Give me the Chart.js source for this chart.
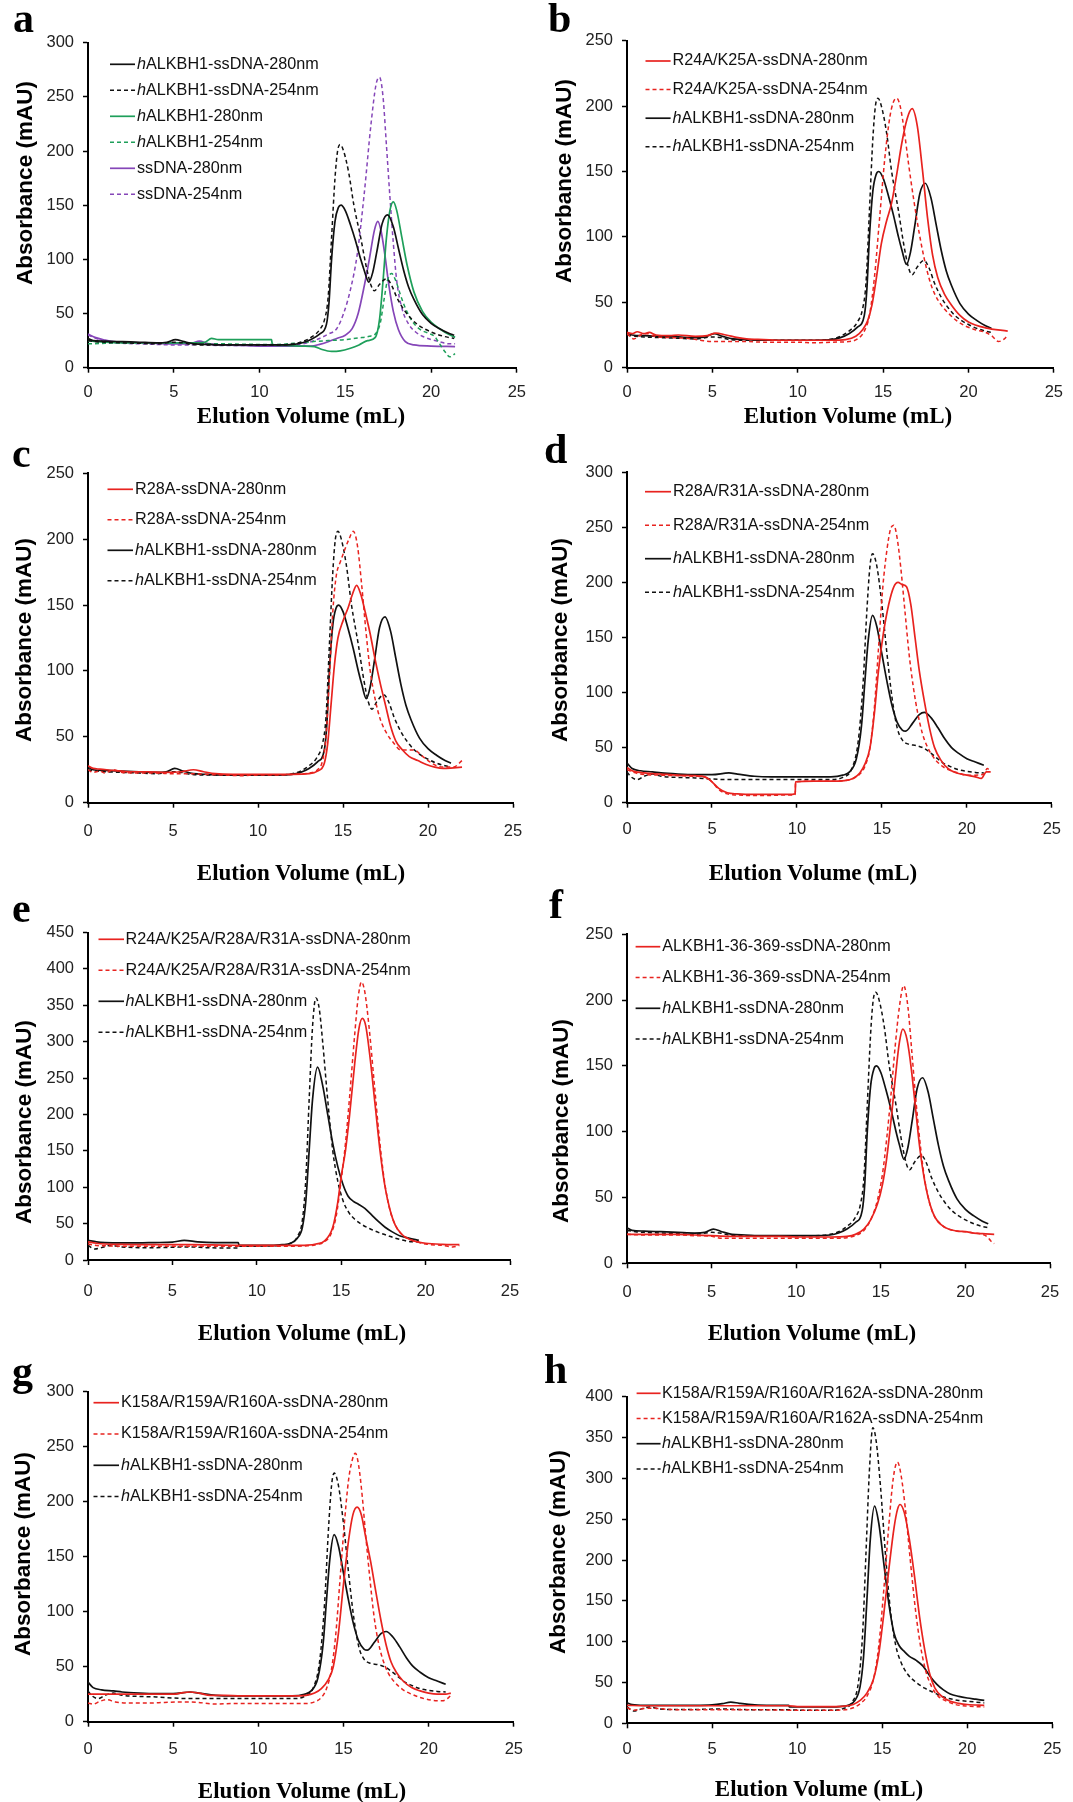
<!DOCTYPE html>
<html><head><meta charset="utf-8">
<script src="https://cdn.jsdelivr.net/npm/chart.js@4.4.1/dist/chart.umd.min.js"></script>
<style>
html,body{margin:0;padding:0;background:#fff;}
body{width:1073px;height:1802px;position:relative;overflow:hidden;}
canvas{position:absolute;}
.lt{position:absolute;font-family:"Liberation Serif","Times New Roman",serif;font-weight:bold;font-size:42px;line-height:1;color:#000;}
.yt{position:absolute;font-family:"Liberation Sans",Arial,sans-serif;font-weight:bold;font-size:22.5px;white-space:nowrap;transform:translate(-50%,-50%) rotate(-90deg);color:#000;line-height:1;}
.xt{position:absolute;font-family:"Liberation Serif","Times New Roman",serif;font-weight:bold;font-size:23px;white-space:nowrap;transform:translate(-50%,-50%);color:#000;line-height:1;}
</style></head><body>
<script>
// ---------------- DATA (elution volume mL, absorbance mAU) ----------------
const X_TICK_STEP = 5, X_MAX = 25, Y_TICK_STEP = 50;
const Y_MAX = {a:300,b:250,c:250,d:300,e:450,f:250,g:300,h:400};

// hALKBH1-ssDNA reference runs (panels a, b, c, f)
const H1_280 = [[0,27],[0.3,25],[1,24.5],[2,24],[3,23.5],[4,23],[4.6,23.5],[5.1,26],[5.6,24],[6.2,22],[7,21.5],[8,21],[9,21],[10,21],[11,21],[12,21.5],[12.5,23],[13,26],[13.5,31],[13.9,40],[14.05,60],[14.2,100],[14.4,135],[14.6,148],[14.75,150],[15,145],[15.3,132],[15.6,117],[15.9,100],[16.1,90],[16.37,79],[16.6,88],[16.85,108],[17.15,133],[17.47,141],[17.8,130],[18.1,110],[18.4,90],[18.7,74],[19,63],[19.5,49],[20,41],[20.5,36],[21,32],[21.35,30]];
const H1_254 = [[0,25],[0.5,24],[1,23.5],[2,23],[3,22.5],[4,22],[5,23.5],[5.5,23],[6,21.5],[7,21],[8,21],[9,21],[10,21],[11,21],[12,22],[12.5,24],[13,28],[13.5,35],[13.8,45],[14,65],[14.2,120],[14.4,175],[14.55,200],[14.7,206],[14.9,200],[15.2,180],[15.5,150],[15.9,120],[16.2,95],[16.5,76],[16.7,71],[17,77],[17.4,82],[17.7,76],[18,65],[18.4,54],[18.8,46],[19.2,40],[19.6,36],[20,33],[20.5,30],[21,28],[21.35,27]];
// hALKBH1-ssDNA reference runs (panels d, g)
const H2_280 = [[0,36],[0.3,31],[0.8,29],[1.5,28],[2,27],[3,26],[4,25.5],[5,25.5],[6,27],[6.5,26],[7.5,24],[8.5,23.5],[10,23.5],[11,23.5],[12,23.5],[12.7,25],[13.1,28],[13.5,40],[13.8,70],[14,110],[14.2,148],[14.45,170],[14.7,160],[15,135],[15.3,110],[15.6,88],[15.9,73],[16.2,66],[16.4,65],[16.8,72],[17.2,80],[17.5,82],[17.9,77],[18.3,68],[18.7,58],[19.1,50],[19.5,45],[20,40],[20.5,37],[21,34]];
const H2_254 = [[0,28],[0.2,24],[0.6,21],[1,24],[1.5,26],[2,24],[3,23],[4,22.5],[5,21.5],[6,21],[8,21],[10,21],[12,21],[12.7,23],[13.2,30],[13.6,55],[13.9,110],[14.1,170],[14.3,215],[14.45,226],[14.7,215],[15,180],[15.3,135],[15.6,95],[15.9,68],[16.2,57],[16.6,53],[17,52],[17.4,50],[17.8,46],[18.2,41],[18.6,36],[19,33],[19.5,30],[20,28.5],[20.5,27.5],[21,27]];
// hALKBH1-ssDNA reference runs (panel e)
const H3_280 = [[0,27],[0.5,25],[1,24],[2,23.5],[3,23.5],[4,24],[5,24.5],[5.7,27],[6.5,25],[7.5,24],[8.5,24],[8.9,24],[8.95,20],[10,20],[11,20],[11.5,21],[12,23],[12.4,30],[12.7,45],[12.9,80],[13.1,150],[13.3,220],[13.6,265],[13.9,240],[14.2,200],[14.5,160],[14.8,128],[15.1,104],[15.4,88],[15.7,81],[16,77],[16.4,71],[16.8,62],[17.2,53],[17.6,45],[18,39],[18.5,33],[19,30],[19.6,27]];
const H3_254 = [[0,20],[0.4,15],[0.8,17],[1.3,20],[2,18],[3,17],[4,17],[5,17.5],[6,18],[7,17],[8,16.5],[8.9,16.5],[8.95,19],[10,19],[11,19.5],[11.5,20.5],[12,23],[12.4,32],[12.7,55],[12.9,110],[13.1,220],[13.3,320],[13.5,360],[13.7,345],[13.9,300],[14.2,220],[14.5,150],[14.8,108],[15.1,82],[15.4,67],[15.8,56],[16.2,49],[16.7,43],[17.2,38],[17.7,34],[18.2,30],[18.7,27],[19.2,25],[19.6,25]];
// hALKBH1-ssDNA reference runs (panel h)
const H4_280 = [[0,25],[0.3,23],[1,22],[2,22],[3,22],[4,22],[5,22.5],[5.6,24],[6.1,26],[6.6,24.5],[7.5,22.5],[8.5,22],[9.5,22],[9.55,20],[10.5,20],[11.5,20],[12.5,20.5],[13,22],[13.4,28],[13.7,45],[13.9,80],[14.1,150],[14.3,225],[14.55,266],[14.8,245],[15.1,195],[15.4,145],[15.7,110],[16,95],[16.3,88],[16.6,82],[17,77],[17.4,70],[17.8,58],[18.2,48],[18.6,41],[19,36],[19.5,33],[20,31],[20.5,29.5],[21,28]];
const H4_254 = [[0,20],[0.4,15],[0.9,18],[1.3,20],[1.8,18],[2.5,17],[4,17],[5.5,17.5],[6.5,17],[8,16.5],[9.5,16.5],[10.5,16],[12,16],[12.7,18],[13.2,25],[13.6,50],[13.85,110],[14.05,210],[14.25,310],[14.45,362],[14.65,345],[14.9,290],[15.2,205],[15.5,135],[15.8,95],[16.1,75],[16.5,60],[17,50],[17.5,43],[18,38],[18.5,33],[19,30],[19.5,28],[20,27],[21,25]];

// panel a: protein alone and ssDNA alone
const PROT_280 = [[0,25],[0.5,24],[1,23.5],[2,23],[3,23],[4,23],[5,23],[6,23],[6.8,23.5],[7.2,27],[7.6,26],[8.5,26],[9.5,26],[10.7,26],[10.75,21],[11.5,20.5],[12.5,20],[13.2,19.5],[13.6,17],[14.2,15],[14.7,15.5],[15.3,18],[15.8,21],[16.3,25],[16.75,28],[17,45],[17.2,80],[17.4,120],[17.6,145],[17.8,153],[18,145],[18.3,120],[18.6,95],[19,70],[19.5,52],[20,42],[20.5,36],[21,31],[21.4,28]];
const PROT_254 = [[0,22],[1,22.5],[2,23],[4,23],[6,22.5],[8,22],[10,21.5],[11,21.5],[12,22.5],[13,24],[14,25],[15,26],[15.8,27.5],[16.4,29],[16.8,32],[17.05,42],[17.25,62],[17.45,80],[17.7,87],[17.95,80],[18.2,68],[18.5,55],[18.9,43],[19.3,36],[19.8,32],[20.2,29],[20.5,22],[20.8,15],[21.1,10],[21.4,13]];
const DNA_280 = [[0,31],[0.4,28],[1,25.5],[1.5,24],[2,23.5],[3,23],[4,22.5],[5,22],[6,22.5],[6.5,24.5],[7,22],[8,21],[9,20.5],[10,20],[11,20],[12,20],[13,20],[13.5,21.5],[14,24],[14.5,27],[15,30],[15.4,36],[15.75,50],[16.1,75],[16.4,100],[16.7,127],[16.9,135],[17.1,125],[17.3,105],[17.55,75],[17.8,52],[18.1,35],[18.5,24],[19,21],[20,20],[21.4,19.5]];
const DNA_254 = [[0,30],[0.5,27],[1,24],[2,22.5],[3,22],[4,21.5],[5,21],[6,21],[6.5,22],[7,21],[8,20.5],[10,20.5],[12,21],[12.5,22],[13,24],[13.5,27],[14,31],[14.5,36],[14.9,50],[15.3,72],[15.7,105],[16.1,160],[16.5,225],[16.8,262],[17,268],[17.2,250],[17.4,205],[17.6,158],[17.8,115],[18,80],[18.3,55],[18.7,40],[19.1,33],[19.5,29],[20,26],[20.5,24],[21,22],[21.4,22]];

// mutants
const R24K25_280 = [[0,27],[0.3,26],[0.6,27.5],[1,26],[1.3,27],[1.7,25],[2.5,24.5],[3,25],[4,24],[4.7,24.5],[5.2,26.5],[5.8,25],[6.5,23],[7,22],[8,21.5],[9,21],[10,21],[11,21],[12,21],[12.8,21.5],[13.4,24],[13.8,29],[14.1,36],[14.35,48],[14.6,68],[14.9,95],[15.2,112],[15.5,126],[15.8,148],[16.1,172],[16.4,190],[16.7,198],[17,185],[17.3,152],[17.6,115],[17.9,86],[18.2,69],[18.6,56],[19,48],[19.5,40],[20,35],[21,30.5],[22.3,28]];
const R24K25_254 = [[0,26],[0.4,22],[0.8,25],[1.2,26],[1.6,24],[2.5,23],[3.5,22.5],[4.3,21],[5,20],[6,20],[7,20],[8,19.5],[9,19.5],[10,19.5],[11,19],[12,19.5],[13,20],[13.5,22],[13.9,28],[14.2,40],[14.5,70],[14.8,115],[15.1,160],[15.4,192],[15.6,203],[15.8,206],[16,200],[16.25,180],[16.5,155],[16.8,128],[17.1,104],[17.4,84],[17.7,68],[18,57],[18.4,48],[18.8,42],[19.3,36],[19.8,32],[20.4,29],[21,27],[21.4,24],[21.75,20],[22.1,22],[22.3,25]];
const R28_280 = [[0,28],[0.3,26],[0.7,25.5],[1.5,24.5],[2.5,23.5],[3.5,23.5],[4.5,23],[5.5,23.5],[6.2,25],[6.8,23.5],[7.5,22],[8.5,21.5],[10,21.5],[11,21.5],[12,21.5],[13,22],[13.5,24],[13.9,30],[14.1,45],[14.3,75],[14.5,105],[14.7,125],[15,138],[15.3,148],[15.55,158],[15.8,165],[16.05,158],[16.3,145],[16.6,128],[16.9,108],[17.2,90],[17.5,74],[17.8,58],[18.1,47],[18.5,40],[18.9,35],[19.4,32],[19.9,29],[20.4,27],[20.9,26],[21.5,26.5],[22,27]];
const R28_254 = [[0,25],[0.3,23],[0.7,24],[1,22.5],[1.5,25],[2,23],[3,22.5],[4,22.5],[5,22],[6,22],[7,21.5],[8,21],[9,20.5],[10,21],[11,21],[12,21.5],[13,22.5],[13.5,25],[13.8,32],[14,50],[14.2,95],[14.4,145],[14.6,172],[14.85,183],[15.1,192],[15.35,200],[15.6,206],[15.85,195],[16.1,165],[16.35,130],[16.6,100],[16.9,78],[17.2,63],[17.6,52],[18,45],[18.4,40],[18.8,40],[19.2,40],[19.6,36],[20,32],[20.5,28],[21,27],[21.5,27],[22,32]];
const R28R31_280 = [[0,32],[0.3,29],[1,27],[2,26],[3,25],[4,24.5],[4.6,23.5],[5,19],[5.4,13],[5.9,9],[6.5,8],[7.5,7.5],[8.5,7.5],[9.5,7.5],[9.9,8],[9.92,19],[11,19.5],[12,19.5],[12.8,20],[13.3,22],[13.7,27],[14,35],[14.3,50],[14.55,80],[14.8,120],[15.1,155],[15.4,180],[15.7,196],[15.95,200],[16.2,198],[16.45,196],[16.7,180],[16.95,150],[17.2,120],[17.5,92],[17.8,68],[18.1,50],[18.5,38],[18.9,31],[19.4,27],[20,25],[20.5,23.5],[20.85,22],[21.15,28],[21.4,28]];
const R28R31_254 = [[0,30],[0.3,28],[1,25.5],[2,25],[3,24.5],[4,24],[4.6,23],[5,19],[5.4,12],[5.9,8],[6.5,7],[8,6.5],[9.5,7],[9.9,7.5],[9.92,19],[11,19.5],[12,19.5],[12.8,20],[13.3,22],[13.7,26],[14,33],[14.3,50],[14.55,85],[14.8,140],[15.05,195],[15.3,230],[15.5,248],[15.7,252],[15.9,240],[16.1,215],[16.35,175],[16.6,135],[16.85,105],[17.1,82],[17.4,62],[17.7,50],[18,42],[18.4,35],[18.9,30],[19.5,27],[20,25],[20.5,25],[21,26],[21.2,31],[21.4,28]];
const QUAD_280 = [[0,25],[0.5,23],[1,22],[2,21.5],[4,21],[6,21],[8,20.5],[10,20],[12,20],[13,20.5],[13.5,22],[14,26],[14.5,45],[14.8,80],[15,115],[15.25,150],[15.5,200],[15.8,270],[16.05,318],[16.25,332],[16.45,322],[16.7,280],[17,215],[17.3,150],[17.6,100],[17.9,68],[18.2,48],[18.6,35],[19,29],[19.5,25],[20,23],[21,21.5],[22,21]];
const QUAD_254 = [[0,22],[0.5,20],[1,19.5],[2,19],[4,19],[6,19],[8,19],[10,19],[12,19],[13,19.5],[13.5,21],[14,25],[14.4,36],[14.7,60],[15,110],[15.25,160],[15.5,225],[15.8,310],[16,360],[16.2,382],[16.4,368],[16.65,320],[16.95,245],[17.25,170],[17.55,110],[17.85,72],[18.2,48],[18.6,35],[19,29],[19.5,25],[20,22],[21,20],[21.6,18],[22,20]];
const TRUNC_280 = [[0,22],[1,22],[2,22],[3,22],[4,21.5],[5,21],[6,20.5],[7,20.5],[8,20.5],[9,20.5],[10,20],[11,20],[12,20],[13,20.5],[13.5,22],[14,26],[14.4,33],[14.8,45],[15.1,60],[15.35,80],[15.6,108],[15.85,140],[16.1,168],[16.3,178],[16.55,170],[16.8,148],[17.05,118],[17.3,88],[17.6,62],[17.9,45],[18.2,35],[18.6,29],[19,26],[19.5,24.5],[20,24],[20.5,23],[21,22.5],[21.7,22]];
const TRUNC_254 = [[0,22],[1,21.5],[2,21.5],[3,21.5],[4,21],[5,20.5],[5.6,19],[6.5,19],[8,19],[10,19],[12,19],[13,19.5],[13.5,21],[14,25],[14.4,33],[14.8,48],[15.1,68],[15.35,95],[15.6,128],[15.85,165],[16.1,195],[16.35,211],[16.6,195],[16.85,158],[17.1,120],[17.35,88],[17.6,63],[17.9,45],[18.2,35],[18.6,29],[19,26],[19.5,24.5],[20,24],[20.5,23],[21,22],[21.3,20],[21.5,17],[21.7,15]];
const KRR_280 = [[0,25],[0.5,25],[1,25],[2,25],[3,25],[4,25],[5,25],[5.6,26.5],[6,27],[6.5,26],[7.2,24],[8,24],[9,23.5],[10,23.5],[11,23.5],[12,23.5],[12.8,24],[13.3,26],[13.7,30],[14.1,38],[14.4,50],[14.7,80],[15,125],[15.3,165],[15.55,188],[15.8,195],[16.05,188],[16.3,168],[16.6,145],[16.9,118],[17.2,92],[17.5,70],[17.8,54],[18.1,45],[18.5,37],[19,31],[19.5,28],[20,26],[20.5,25],[21,25],[21.3,26]];
const KRR_254 = [[0,17],[0.3,16],[0.7,18.5],[1.1,20],[1.6,18],[2.5,17],[3.5,17],[4.5,17.5],[5.5,18],[6,18],[6.5,17.5],[7.5,16],[8.5,16.5],[10,16.5],[11,16.5],[12,16.5],[12.8,16.5],[13.3,18],[13.7,22],[14,30],[14.3,48],[14.55,80],[14.8,130],[15.05,180],[15.3,220],[15.55,240],[15.7,244],[15.9,232],[16.1,205],[16.3,170],[16.55,130],[16.8,95],[17.05,72],[17.3,57],[17.6,45],[18,36],[18.5,29],[19,25],[19.5,22],[20,20],[20.5,19],[20.8,19],[21.1,21],[21.3,24]];
const KRRR_280 = [[0,22],[1,21.5],[2,21.5],[4,21.5],[6,21.5],[8,21.5],[9.5,21.5],[10,20.5],[11,20.5],[12,20.5],[12.8,21],[13.3,23],[13.7,28],[14.1,37],[14.5,55],[14.8,85],[15.1,135],[15.4,190],[15.7,240],[15.9,262],[16.05,268],[16.3,258],[16.6,225],[16.9,180],[17.2,130],[17.5,90],[17.8,60],[18.1,43],[18.5,33],[19,27],[19.5,24.5],[20,23],[21,22]];
const KRRR_254 = [[0,19],[0.4,16],[1,18],[1.5,18.5],[2.5,17],[4,16.5],[6,16.5],[8,16.5],[10,16],[12,16],[12.8,16.5],[13.3,19],[13.7,24],[14.1,33],[14.5,55],[14.8,95],[15.1,165],[15.4,245],[15.65,300],[15.9,320],[16.1,305],[16.35,265],[16.65,200],[16.95,140],[17.25,95],[17.55,65],[17.9,45],[18.3,33],[18.8,27],[19.3,23],[20,21],[21,20]];

// legend labels
const LBL_H_280 = 'hALKBH1-ssDNA-280nm', LBL_H_254 = 'hALKBH1-ssDNA-254nm';
const SERIES = {
  a: [[LBL_H_280,H1_280,'k',0],[LBL_H_254,H1_254,'k',1],['hALKBH1-280nm',PROT_280,'g',0],['hALKBH1-254nm',PROT_254,'g',1],['ssDNA-280nm',DNA_280,'p',0],['ssDNA-254nm',DNA_254,'p',1]],
  b: [['R24A/K25A-ssDNA-280nm',R24K25_280,'r',0],['R24A/K25A-ssDNA-254nm',R24K25_254,'r',1],[LBL_H_280,H1_280,'k',0],[LBL_H_254,H1_254,'k',1]],
  c: [['R28A-ssDNA-280nm',R28_280,'r',0],['R28A-ssDNA-254nm',R28_254,'r',1],[LBL_H_280,H1_280,'k',0],[LBL_H_254,H1_254,'k',1]],
  d: [['R28A/R31A-ssDNA-280nm',R28R31_280,'r',0],['R28A/R31A-ssDNA-254nm',R28R31_254,'r',1],[LBL_H_280,H2_280,'k',0],[LBL_H_254,H2_254,'k',1]],
  e: [['R24A/K25A/R28A/R31A-ssDNA-280nm',QUAD_280,'r',0],['R24A/K25A/R28A/R31A-ssDNA-254nm',QUAD_254,'r',1],[LBL_H_280,H3_280,'k',0],[LBL_H_254,H3_254,'k',1]],
  f: [['ALKBH1-36-369-ssDNA-280nm',TRUNC_280,'r',0],['ALKBH1-36-369-ssDNA-254nm',TRUNC_254,'r',1],[LBL_H_280,H1_280,'k',0],[LBL_H_254,H1_254,'k',1]],
  g: [['K158A/R159A/R160A-ssDNA-280nm',KRR_280,'r',0],['K158A/R159A/R160A-ssDNA-254nm',KRR_254,'r',1],[LBL_H_280,H2_280,'k',0],[LBL_H_254,H2_254,'k',1]],
  h: [['K158A/R159A/R160A/R162A-ssDNA-280nm',KRRR_280,'r',0],['K158A/R159A/R160A/R162A-ssDNA-254nm',KRRR_254,'r',1],[LBL_H_280,H4_280,'k',0],[LBL_H_254,H4_254,'k',1]]
};
const X_TITLE = 'Elution Volume (mL)', Y_TITLE = 'Absorbance (mAU)';

// ---------------- LAYOUT / STYLE ----------------
const COLORS = {k:'#111111', r:'#e8231f', g:'#1e9f5a', p:'#8546b8'};
const SANS = '"Liberation Sans", Arial, sans-serif';
const LAYOUT = {
  a:{cv:[0,0,536,430],    plot:[88,42.7,518,367.7],    xpad:10,   leg:[110,135,137,64.3,26],      letter:[13,32],   yt:[25,182.5], xt:[301,415]},
  b:{cv:[536,0,537,430],  plot:[627,40.7,1057.5,367.7],xpad:10,   leg:[645.5,670.6,672.5,61,28.6],letter:[548,32],  yt:[564,181],  xt:[848,415]},
  c:{cv:[0,430,536,450],  plot:[88,473.3,518,802.7],   xpad:13.8, leg:[107.5,133,135,489.3,30.5], letter:[12,467],  yt:[24,640],   xt:[301,871.7]},
  d:{cv:[536,430,537,450],plot:[627,472.3,1057.5,802.7],xpad:12,  leg:[645,671,673,491.7,33.5],   letter:[544,463], yt:[560,640],  xt:[813,872]},
  e:{cv:[0,880,536,470],  plot:[88,932.5,518,1260],    xpad:16.8, leg:[98.5,124,125.5,939.3,31],  letter:[12,922],  yt:[24,1122],  xt:[302,1332]},
  f:{cv:[536,880,537,470],plot:[627,934.3,1057.5,1263.3],xpad:13.8,leg:[635.6,660.3,662.3,946.7,30.8],letter:[549,918],yt:[561,1121],xt:[812,1332]},
  g:{cv:[0,1350,536,452], plot:[88,1391.7,518,1721.7], xpad:13,   leg:[93.5,119,121,1402.7,31.3], letter:[12,1385], yt:[23,1554],  xt:[302,1790]},
  h:{cv:[536,1350,537,452],plot:[627,1396.7,1057.5,1723.3],xpad:11.5,leg:[636.6,660.6,662,1393.3,25.2],letter:[544,1383],yt:[558,1552],xt:[819,1788]}
};

const insideLegend = {
  id:'insideLegend',
  afterDatasetsDraw(chart, args, o){
    const ctx = chart.ctx;
    chart.data.datasets.forEach((ds,i)=>{
      const y = o.y0 + i*o.dy;
      ctx.save();
      ctx.strokeStyle = ds.borderColor; ctx.lineWidth = ds.borderWidth;
      ctx.setLineDash(ds.borderDash || []);
      ctx.beginPath(); ctx.moveTo(o.x1,y); ctx.lineTo(o.x2,y); ctx.stroke();
      ctx.setLineDash([]);
      ctx.fillStyle = '#111'; ctx.textBaseline = 'middle'; ctx.textAlign = 'left';
      let x = o.tx, text = ds.label;
      if (text.startsWith('hALKBH1')) {
        ctx.font = 'italic ' + o.fs + 'px ' + SANS;
        ctx.fillText('h', x, y); x += ctx.measureText('h').width; text = text.slice(1);
      }
      ctx.font = o.fs + 'px ' + SANS;
      ctx.fillText(text, x, y);
      ctx.restore();
    });
  }
};

function axisOpts(extra){
  return Object.assign({
    grid:{display:true, drawOnChartArea:false, drawTicks:true, tickLength:5, color:'#000', tickColor:'#000', tickWidth:1.5},
    border:{display:true, color:'#000', width:2}
  }, extra);
}

Object.keys(LAYOUT).forEach(id=>{
  const L = LAYOUT[id];
  const [cx,cy,cw,ch] = L.cv;
  const [pl,pt,pr,pb] = L.plot;
  const cv = document.createElement('canvas');
  cv.width = cw; cv.height = ch;
  cv.style.left = cx+'px'; cv.style.top = cy+'px';
  cv.style.width = cw+'px'; cv.style.height = ch+'px';
  document.body.appendChild(cv);

  const datasets = SERIES[id].map(([label,arr,col,dash])=>({
    label, data: arr.map(([x,y])=>({x,y})),
    borderColor: COLORS[col], backgroundColor: COLORS[col],
    borderWidth: dash ? 1.5 : 1.7, borderDash: dash ? [4,3] : [],
    pointRadius:0, fill:false, cubicInterpolationMode:'monotone'
  }));
  const tickFont = {family:SANS, size:16.5};
  new Chart(cv, {
    type:'line',
    data:{datasets},
    plugins:[insideLegend],
    options:{
      responsive:false, animation:false, devicePixelRatio:1,
      layout:{padding:{left:0, top:pt-cy, right:cx+cw-pr, bottom:0}},
      plugins:{legend:{display:false}, tooltip:{enabled:false},
        insideLegend:{x1:L.leg[0]-cx, x2:L.leg[1]-cx, tx:L.leg[2]-cx, y0:L.leg[3]-cy, dy:L.leg[4], fs:16.2}},
      scales:{
        x: axisOpts({type:'linear', min:0, max:X_MAX,
          ticks:{stepSize:X_TICK_STEP, font:tickFont, color:'#222', padding:L.xpad, maxRotation:0, autoSkip:false},
          afterFit(s){ s.height = cy+ch-pb; }}),
        y: axisOpts({type:'linear', min:0, max:Y_MAX[id],
          ticks:{stepSize:Y_TICK_STEP, font:tickFont, color:'#222', padding:9},
          afterFit(s){ s.width = pl-cx; }})
      }
    }
  });

  const lt = document.createElement('div'); lt.className='lt'; lt.textContent=id;
  lt.style.left = L.letter[0]+'px'; lt.style.top = (L.letter[1]-0.8375*42)+'px';
  document.body.appendChild(lt);
  const yt = document.createElement('div'); yt.className='yt'; yt.textContent=Y_TITLE;
  yt.style.left = L.yt[0]+'px'; yt.style.top = L.yt[1]+'px';
  document.body.appendChild(yt);
  const xt = document.createElement('div'); xt.className='xt'; xt.textContent=X_TITLE;
  xt.style.left = L.xt[0]+'px'; xt.style.top = L.xt[1]+'px';
  document.body.appendChild(xt);
});
</script>
</body></html>
